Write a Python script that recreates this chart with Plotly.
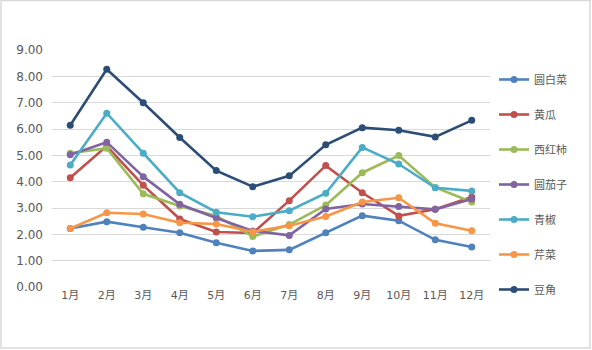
import plotly.graph_objects as go

months = ["1月", "2月", "3月", "4月", "5月", "6月", "7月", "8月", "9月", "10月", "11月", "12月"]
series_names = ["圆白菜", "黄瓜", "西红柿", "圆茄子", "青椒", "芹菜", "豆角"]
yuanbaicai = [2.22, 2.48, 2.27, 2.06, 1.68, 1.37, 1.41, 2.06, 2.71, 2.52, 1.79, 1.52]
huanggua = [4.15, 5.35, 3.86, 2.58, 2.09, 2.05, 3.28, 4.61, 3.58, 2.70, 2.95, 3.42]
xihongshi = [5.08, 5.27, 3.54, 3.08, 2.70, 1.92, 2.37, 3.11, 4.34, 4.99, 3.78, 3.23]
yuanqiezi = [5.02, 5.50, 4.19, 3.14, 2.62, 2.13, 1.96, 2.96, 3.15, 3.06, 2.95, 3.34]
qingjiao = [4.63, 6.60, 5.08, 3.58, 2.84, 2.67, 2.90, 3.56, 5.30, 4.67, 3.77, 3.65]
qincai = [2.22, 2.82, 2.77, 2.44, 2.39, 2.10, 2.33, 2.68, 3.23, 3.39, 2.42, 2.14]
doujiao = [6.14, 8.27, 7.00, 5.68, 4.42, 3.81, 4.22, 5.40, 6.05, 5.95, 5.70, 6.33]
colors = ["#4F81BD", "#C0504D", "#9BBB59", "#8064A2", "#4BACC6", "#F79646", "#2C4D75"]
y_ticks = [0, 1, 2, 3, 4, 5, 6, 7, 8, 9]

all_series = [yuanbaicai, huanggua, xihongshi, yuanqiezi, qingjiao, qincai, doujiao]

fig = go.Figure()
for name, vals, c in zip(series_names, all_series, colors):
    fig.add_trace(go.Scatter(
        x=months, y=vals, name=name, mode="lines+markers",
        legendgroup=name,
        line=dict(color=c, width=2.6),
        marker=dict(color=c, size=7),
    ))

W, H = 592, 350
ml, mr, mt, mb = 52, 102, 50, 63
pw, ph = W - ml - mr, H - mt - mb

fig.update_layout(
    width=W, height=H,
    margin=dict(l=ml, r=mr, t=mt, b=mb),
    paper_bgcolor="white", plot_bgcolor="white",
    font=dict(family="DejaVu Sans, Noto Sans CJK SC", color="#595959", size=11),
    xaxis=dict(
        type="category", showgrid=False, showline=False, zeroline=False,
        ticks="", tickfont=dict(size=11, color="#595959"),
        range=[-0.5, 11.5],
    ),
    yaxis=dict(
        range=[0, 9], tickvals=y_ticks,
        ticktext=[f"{v:.2f}" for v in y_ticks],
        showgrid=True, gridcolor="#D9D9D9", gridwidth=1,
        zeroline=False, showline=False, ticks="",
        tickfont=dict(size=12, color="#595959"),
        ticklabelstandoff=8,
    ),
    legend=dict(
        x=(494 - ml) / pw, xanchor="left",
        y=1 - (65 - mt) / ph, yanchor="top",
        font=dict(family="Noto Sans CJK SC", size=11, color="#595959"),
        tracegroupgap=16, itemwidth=30,
        bgcolor="rgba(0,0,0,0)",
        maxheight=345,
    ),
    showlegend=True,
)

fig.add_shape(
    type="rect", xref="paper", yref="paper",
    x0=(1 - ml) / pw, x1=(590 - ml) / pw,
    y0=1 + (mt - 0.5) / ph, y1=1 - (348 - mt) / ph,
    line=dict(color="#D9D9D9", width=1.5), fillcolor="rgba(0,0,0,0)",
    layer="below",
)

fig.write_html("out.html")
